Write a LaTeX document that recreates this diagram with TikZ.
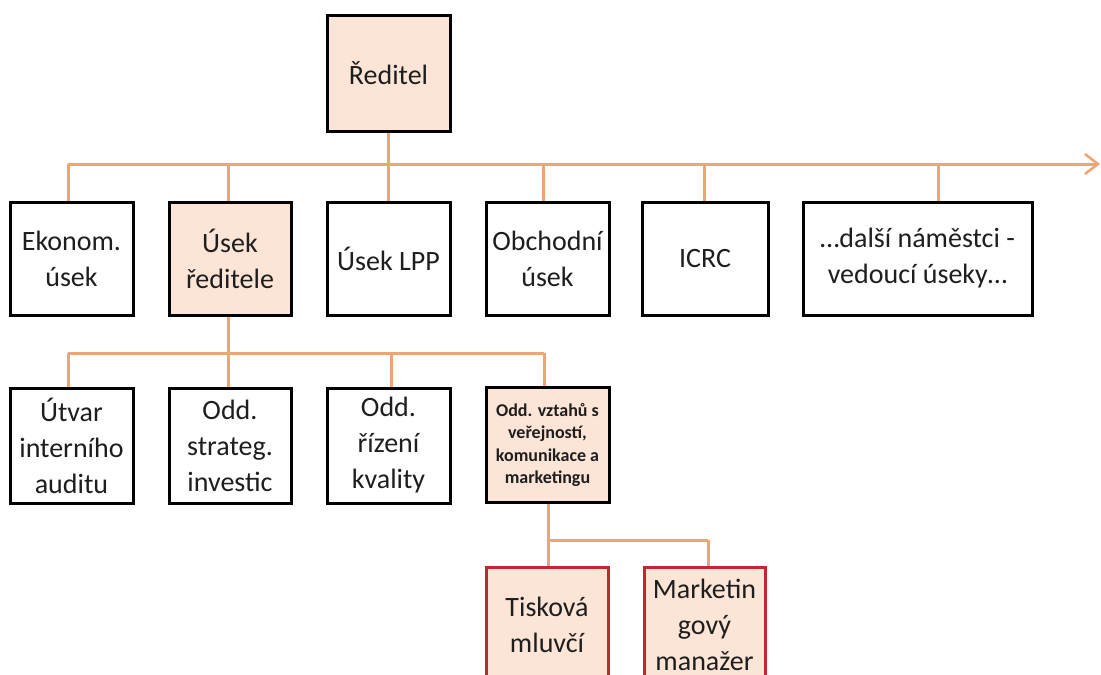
\documentclass[tikz,border=0pt]{standalone}
\usepackage{fontspec}
\setmainfont{Carlito}
\usetikzlibrary{arrows.meta}
\definecolor{peach}{RGB}{252,229,214}
\definecolor{linkorange}{RGB}{241,163,112}
\definecolor{boxred}{RGB}{192,40,45}
\definecolor{ink}{RGB}{30,30,30}
\tikzset{
  unit/.style={draw=black, line width=3pt, fill=white, text=ink, align=center,
    inner sep=0pt, font=\fontsize{28}{36}\selectfont},
  lead/.style={unit, fill=peach},
  sub/.style={unit, fill=peach, draw=boxred},
  link/.style={draw=linkorange, line width=3pt},
}
\begin{document}
\begin{tikzpicture}[x=1pt, y=-1pt]
\useasboundingbox (0,0) rectangle (1101,675);
\clip (0,0) rectangle (1101,675);

% top
\node[lead, minimum width=123, minimum height=116] (dir) at (388.5,73) {Ředitel};

% first level
\node[unit, minimum width=123, minimum height=113] (eko) at (71.5,258.5) {Ekonom.\\úsek};
\node[lead, minimum width=122, minimum height=113] (ur) at (230,258.5) {Úsek\\ředitele};
\node[unit, minimum width=123, minimum height=113] (lpp) at (388.5,258.5) {Úsek LPP};
\node[unit, minimum width=123, minimum height=113] (obch) at (547.5,258.5) {Obchodní\\úsek};
\node[unit, minimum width=126, minimum height=113] (icrc) at (705,258.5) {ICRC};
\node[unit, minimum width=229, minimum height=113] (dalsi) at (917.5,258.5) {…další náměstci -\\vedoucí úseky…};

% second level
\node[unit, minimum width=123, minimum height=115] (audit) at (71.5,445.5) {Útvar\\interního\\auditu};
\node[unit, minimum width=122, minimum height=115] (strat) at (230,445.5) {Odd.\\strateg.\\investic};
\node[unit, minimum width=123, minimum height=115] (kval) at (388.5,445.5) {Odd.\\řízení\\kvality};
\node[lead, minimum width=123, minimum height=115,
      font=\fontsize{18}{22.5}\selectfont\bfseries] (pr) at (547.5,445) {Odd. vztahů s\\veřejností,\\komunikace a\\marketingu};

% third level
\node[sub, minimum width=122, minimum height=116] (tisk) at (547,625) {Tisková\\mluvčí};
\node[sub, minimum width=121, minimum height=116] (mark) at (704.5,625) {Marketin\\gový\\manažer};

% bus lines
\coordinate (bus1) at (68,164);
\coordinate (bus1end) at (1100,164);
\coordinate (bus2) at (68,353);
\coordinate (bus2end) at (544,353);
\coordinate (bus3) at (548,540);
\coordinate (bus3end) at (708,540);

\draw[link, -{Straight Barb[length=13pt,width=20pt,line width=2.5pt]}] (bus1) -- (bus1end);
\draw[link] (dir.south) -- (lpp.north);
\draw[link] (bus1) -- ([xshift=-3.5pt]eko.north);
\draw[link] ([xshift=-2pt]ur.north) -- ([xshift=-2pt]ur.north |- bus1);
\draw[link] ([xshift=-4.5pt]obch.north) -- ([xshift=-4.5pt]obch.north |- bus1);
\draw[link] ([xshift=-1pt]icrc.north) -- ([xshift=-1pt]icrc.north |- bus1);
\draw[link] ([xshift=20.5pt]dalsi.north) -- ([xshift=20.5pt]dalsi.north |- bus1);

\draw[link] (bus2) -- (bus2end);
\draw[link] ([xshift=-2pt]ur.south) -- ([xshift=-2pt]strat.north);
\draw[link] (bus2) -- ([xshift=-3.5pt]audit.north);
\draw[link] ([xshift=2.5pt]kval.north) -- ([xshift=2.5pt]kval.north |- bus2);
\draw[link] (bus2end) -- (bus2end |- pr.north);

\draw[link] (bus3) -- (bus3end);
\draw[link] (bus3 |- pr.south) -- (bus3) -- (bus3 |- tisk.north);
\draw[link] (bus3end) -- (bus3end |- mark.north);
\end{tikzpicture}
\end{document}
